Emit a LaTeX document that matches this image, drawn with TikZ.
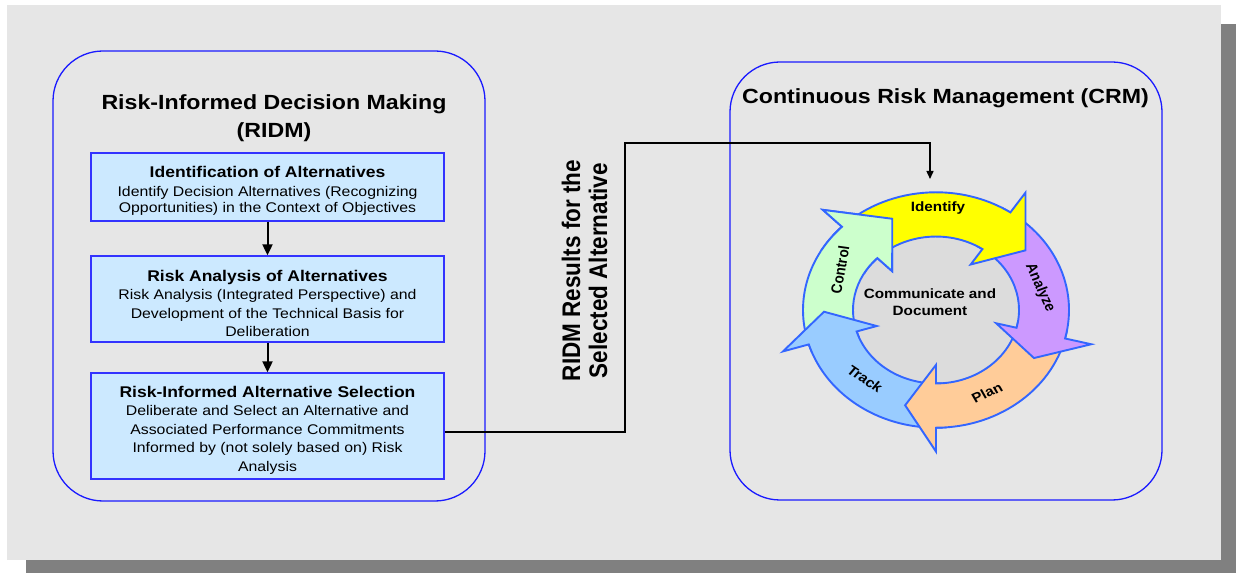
\documentclass[tikz,border=0pt]{standalone}
\usepackage{fontspec}
\setmainfont{Liberation Sans}
\usetikzlibrary{arrows.meta}
\definecolor{panel}{HTML}{E6E6E6}
\definecolor{shadowgray}{HTML}{808080}
\definecolor{boxblue}{HTML}{1A1AFF}
\definecolor{iblue}{HTML}{3333FF}
\definecolor{ifill}{HTML}{CCE9FF}
\definecolor{cycblue}{HTML}{3366FF}
\definecolor{cYellow}{HTML}{FFFF00}
\definecolor{cPurple}{HTML}{CC99FF}
\definecolor{cOrange}{HTML}{FFCC99}
\definecolor{cBlue}{HTML}{99CCFF}
\definecolor{cGreen}{HTML}{CCFFCC}
\definecolor{cDisk}{HTML}{DCDCDC}
\newcommand\fTitle{\fontsize{20.5}{24}\selectfont\bfseries}
\newcommand\fSide{\fontsize{22.5}{24}\selectfont\bfseries}
\newcommand\fHdr{\fontsize{15.5}{18}\selectfont\bfseries}
\newcommand\fBody{\fontsize{14}{18.5}\selectfont}
\newcommand\fCyc{\fontsize{13.5}{17}\selectfont\bfseries}
\newcommand\cRo{133}
\newcommand\cRi{83}
\newcommand\cHo{160}
\newcommand\cHi{62}
\newcommand\cRt{112}
\newcommand\cyclearrow[4]{%
  \filldraw[cyc, fill=#1] (#2:\cRo) arc[start angle=#2, end angle=#3, radius=\cRo]
    -- (#3:\cHo) -- (#4:\cRt) -- (#3:\cHi) -- (#3:\cRi)
    arc[start angle=#3, end angle=#2, radius=\cRi] -- cycle;}
\begin{document}
\begin{tikzpicture}[x=1pt,y=1pt,
  rbox/.style={draw=boxblue, line width=1.3pt, rounded corners=50pt, minimum width=432pt, inner sep=0pt},
  ibox/.style={draw=iblue, fill=ifill, line width=1.3pt, minimum width=353pt, inner sep=0pt},
  btxt/.style={xscale=1.13, inner sep=0pt, align=center, font=\fBody},
  tx/.style={xscale=1.13, inner sep=0pt, align=center},
  flow/.style={line width=2pt, -{Triangle[length=11pt,width=10pt]}},
  conn/.style={line width=1.5pt, -{Triangle[length=8pt,width=7pt]}},
  cyc/.style={draw=cycblue, line width=1.9pt, line join=miter}]
\useasboundingbox (0,0) rectangle (1236,573);
\fill[white] (0,0) rectangle (1236,573);
\fill[shadowgray] (26,0) rectangle (1236,549);
\fill[panel] (7,13) rectangle (1221,568);

% containers
\node[rbox, minimum height=450pt] (ridm) at (269,297) {};
\node[rbox, minimum height=438pt] (crm) at (946,292) {};

% titles
\node[tx, font=\fTitle] (t1) at (274,469) {Risk-Informed Decision Making};
\node[tx, font=\fTitle] (t2) at (274,441) {(RIDM)};
\node[tx, font=\fTitle] (t3) at (945.5,474.5) {Continuous Risk Management (CRM)};

% RIDM boxes
\node[ibox, minimum height=68pt] (b1) at (267.5,386) {};
\node[btxt] (b1t) at ([yshift=-4pt]b1.center)
  {{\fHdr Identification of Alternatives}\\[0.5pt]
   Identify Decision Alternatives (Recognizing\\[-2pt]
   Opportunities) in the Context of Objectives};
\node[ibox, minimum height=86pt] (b2) at (267.5,274) {};
\node[btxt] (b2t) at ([yshift=-4.5pt]b2.center)
  {{\fHdr Risk Analysis of Alternatives}\\
   Risk Analysis (Integrated Perspective) and\\
   Development of the Technical Basis for\\
   Deliberation};
\node[ibox, minimum height=106pt] (b3) at (267.5,147) {};
\node[btxt] (b3t) at ([yshift=-4pt]b3.center)
  {{\fHdr Risk-Informed Alternative Selection}\\
   Deliberate and Select an Alternative and\\
   Associated Performance Commitments\\
   Informed by (not solely based on) Risk\\
   Analysis};
\draw[flow] (b1.south) -- (b2.north);
\draw[flow] (b2.south) -- (b3.north);

% side label
\node[tx, rotate=90, font=\fSide] (side) at (584.5,302.5)
  {RIDM Results for the\\Selected Alternative};

% cycle
\begin{scope}[shift={(936,263)}, yscale=0.885]
  \fill[cDisk] (0,0) circle[radius=100];
  \cyclearrow{cGreen}{201}{135}{113}
  \cyclearrow{cBlue}{-86}{-163}{-179}
  \cyclearrow{cOrange}{-10}{-90}{-106}
  \cyclearrow{cPurple}{60}{-14}{-29}
  \cyclearrow{cYellow}{140}{56}{37}
  \begin{scope}
    \clip (0,0) -- (100:200) arc[start angle=100, end angle=150, radius=200] -- cycle;
    \cyclearrow{cGreen}{201}{135}{113}
  \end{scope}
\end{scope}

% connector
\coordinate (turn) at (625,430);
\coordinate (idtop) at (930,394);
\draw[conn] ([yshift=-6pt]b3.east) -| (turn) -| (idtop);

% cycle labels
\node[tx, font=\fCyc] (lid) at (938,365) {Identify};
\node[tx, rotate=-68, font=\fCyc] (lan) at (1040,285) {Analyze};
\node[tx, rotate=27, font=\fCyc] (lpl) at (987,180) {Plan};
\node[tx, rotate=-37, font=\fCyc] (ltr) at (865,194) {Track};
\node[tx, rotate=81, font=\fCyc] (lco) at (840,303) {Control};
\node[tx, font=\fCyc] (lcd) at (930,271) {Communicate and\\Document};
\end{tikzpicture}
\end{document}
